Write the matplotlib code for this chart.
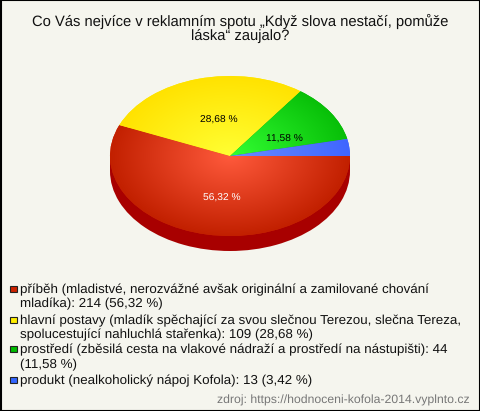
import numpy as np
import matplotlib
matplotlib.use("Agg")
import matplotlib.pyplot as plt
from matplotlib.colors import LinearSegmentedColormap
from matplotlib.patches import Rectangle

plt.rcParams['font.family'] = ['Liberation Sans', 'DejaVu Sans']
plt.rcParams['text.hinting'] = 'no_hinting'

W, H = 480, 411

title_lines = ["Co Vás nejvíce v reklamním spotu „Když slova nestačí, pomůže", "láska“ zaujalo?"]
values = [214, 109, 44, 13]
percents = ["56,32 %", "28,68 %", "11,58 %", "3,42 %"]
names = [
    ["příběh (mladistvé, nerozvážné avšak originální a zamilované chování", "mladíka)"],
    ["hlavní postavy (mladík spěchající za svou slečnou Terezou, slečna Tereza,", "spolucestující nahluchlá stařenka)"],
    ["prostředí (zběsilá cesta na vlakové nádraží a prostředí na nástupišti)"],
    ["produkt (nealkoholický nápoj Kofola)"],
]
inner_colors = ["#ff5a3c", "#ffff33", "#33ff33", "#6a8cff"]
outer_colors = ["#c22000", "#ffe200", "#08bf08", "#3f66ff"]
legend_colors = ["#cc2200", "#ffee00", "#00bb00", "#3366ff"]
side_color = "#a80000"
source = "zdroj: https://hodnoceni-kofola-2014.vyplnto.cz"

# pixel spots of the pie and the labels
cx, cy, rx, ry, depth = 230, 156, 120, 80, 15
label_spots = [(222, 197, "white"), (219, 119, "black"), (284, 138, "black")]
legend_rows = [(289, 303), (320, 334), (349, 364), (380,)]


def ftext(x, y, s, **kw):
    return fig.text(x / W, 1 - (y + 1) / H, s, va="center", **kw)


def radial_cmap(inner, outer):
    return LinearSegmentedColormap.from_list("g", [inner, outer])


fig = plt.figure(figsize=(W / 100, H / 100), dpi=100, facecolor="#f5f5ee")
fig.add_artist(Rectangle((0.5 / W, 0.5 / H), 1 - 1 / W, 1 - 1 / H, transform=fig.transFigure,
                         fill=False, edgecolor="black", linewidth=1.5))

ax = fig.add_axes([(cx - rx) / W, 1 - (cy + ry + depth) / H, 2 * rx / W, (2 * ry + depth) / H])
d = depth / ry

# side of the pie first, then the top with the gradient
ax.pie([1], radius=1, center=(0, -d), colors=[side_color], wedgeprops={"linewidth": 0})
xs = np.linspace(-1, 1, 200)
ax.fill_between(xs, -d, 0, color=side_color, linewidth=0)
wedges, _ = ax.pie(values, radius=1, startangle=0, counterclock=False,
                   colors=legend_colors, wedgeprops={"linewidth": 0})

yy, xx = np.mgrid[-1:1:400j, -1:1:400j]
rr = np.clip(np.hypot(xx, yy), 0, 1)
for w, c1, c2 in zip(wedges, inner_colors, outer_colors):
    im = ax.imshow(rr, extent=(-1, 1, -1, 1), origin="lower", cmap=radial_cmap(c1, c2),
                   vmin=0, vmax=1, aspect="auto", zorder=3)
    im.set_clip_path(w)

ax.set_aspect("auto")
ax.set_xlim(-1, 1)
ax.set_ylim(-1 - d, 1)
ax.axis("off")

for (x, y, col), p in zip(label_spots, percents):
    ftext(x, y, p, ha="center", color=col, fontsize=7.4)

ftext(240, 20, title_lines[0], ha="center", color="#111111", fontsize=10.65)
ftext(240, 35, title_lines[1], ha="center", color="#111111", fontsize=10.65)

for i, rows in enumerate(legend_rows):
    lines = list(names[i])
    tail = f": {values[i]} ({percents[i]})"
    if len(rows) == 2 and len(lines) == 1:
        lines[0] += f": {values[i]}"
        lines.append(f"({percents[i]})")
    else:
        lines[-1] += tail
    for y, line in zip(rows, lines):
        ftext(20, y, line, ha="left", color="#111111", fontsize=9.6)
    fig.add_artist(Rectangle((10 / W, 1 - (rows[0] + 3) / H), 6.5 / W, 6.5 / H, transform=fig.transFigure,
                             facecolor=legend_colors[i], edgecolor="#222222", linewidth=0.8))

ftext(470, 399, source, ha="right", color="#777777", fontsize=8.8)

fig.savefig("out.png", dpi=100, facecolor=fig.get_facecolor())
